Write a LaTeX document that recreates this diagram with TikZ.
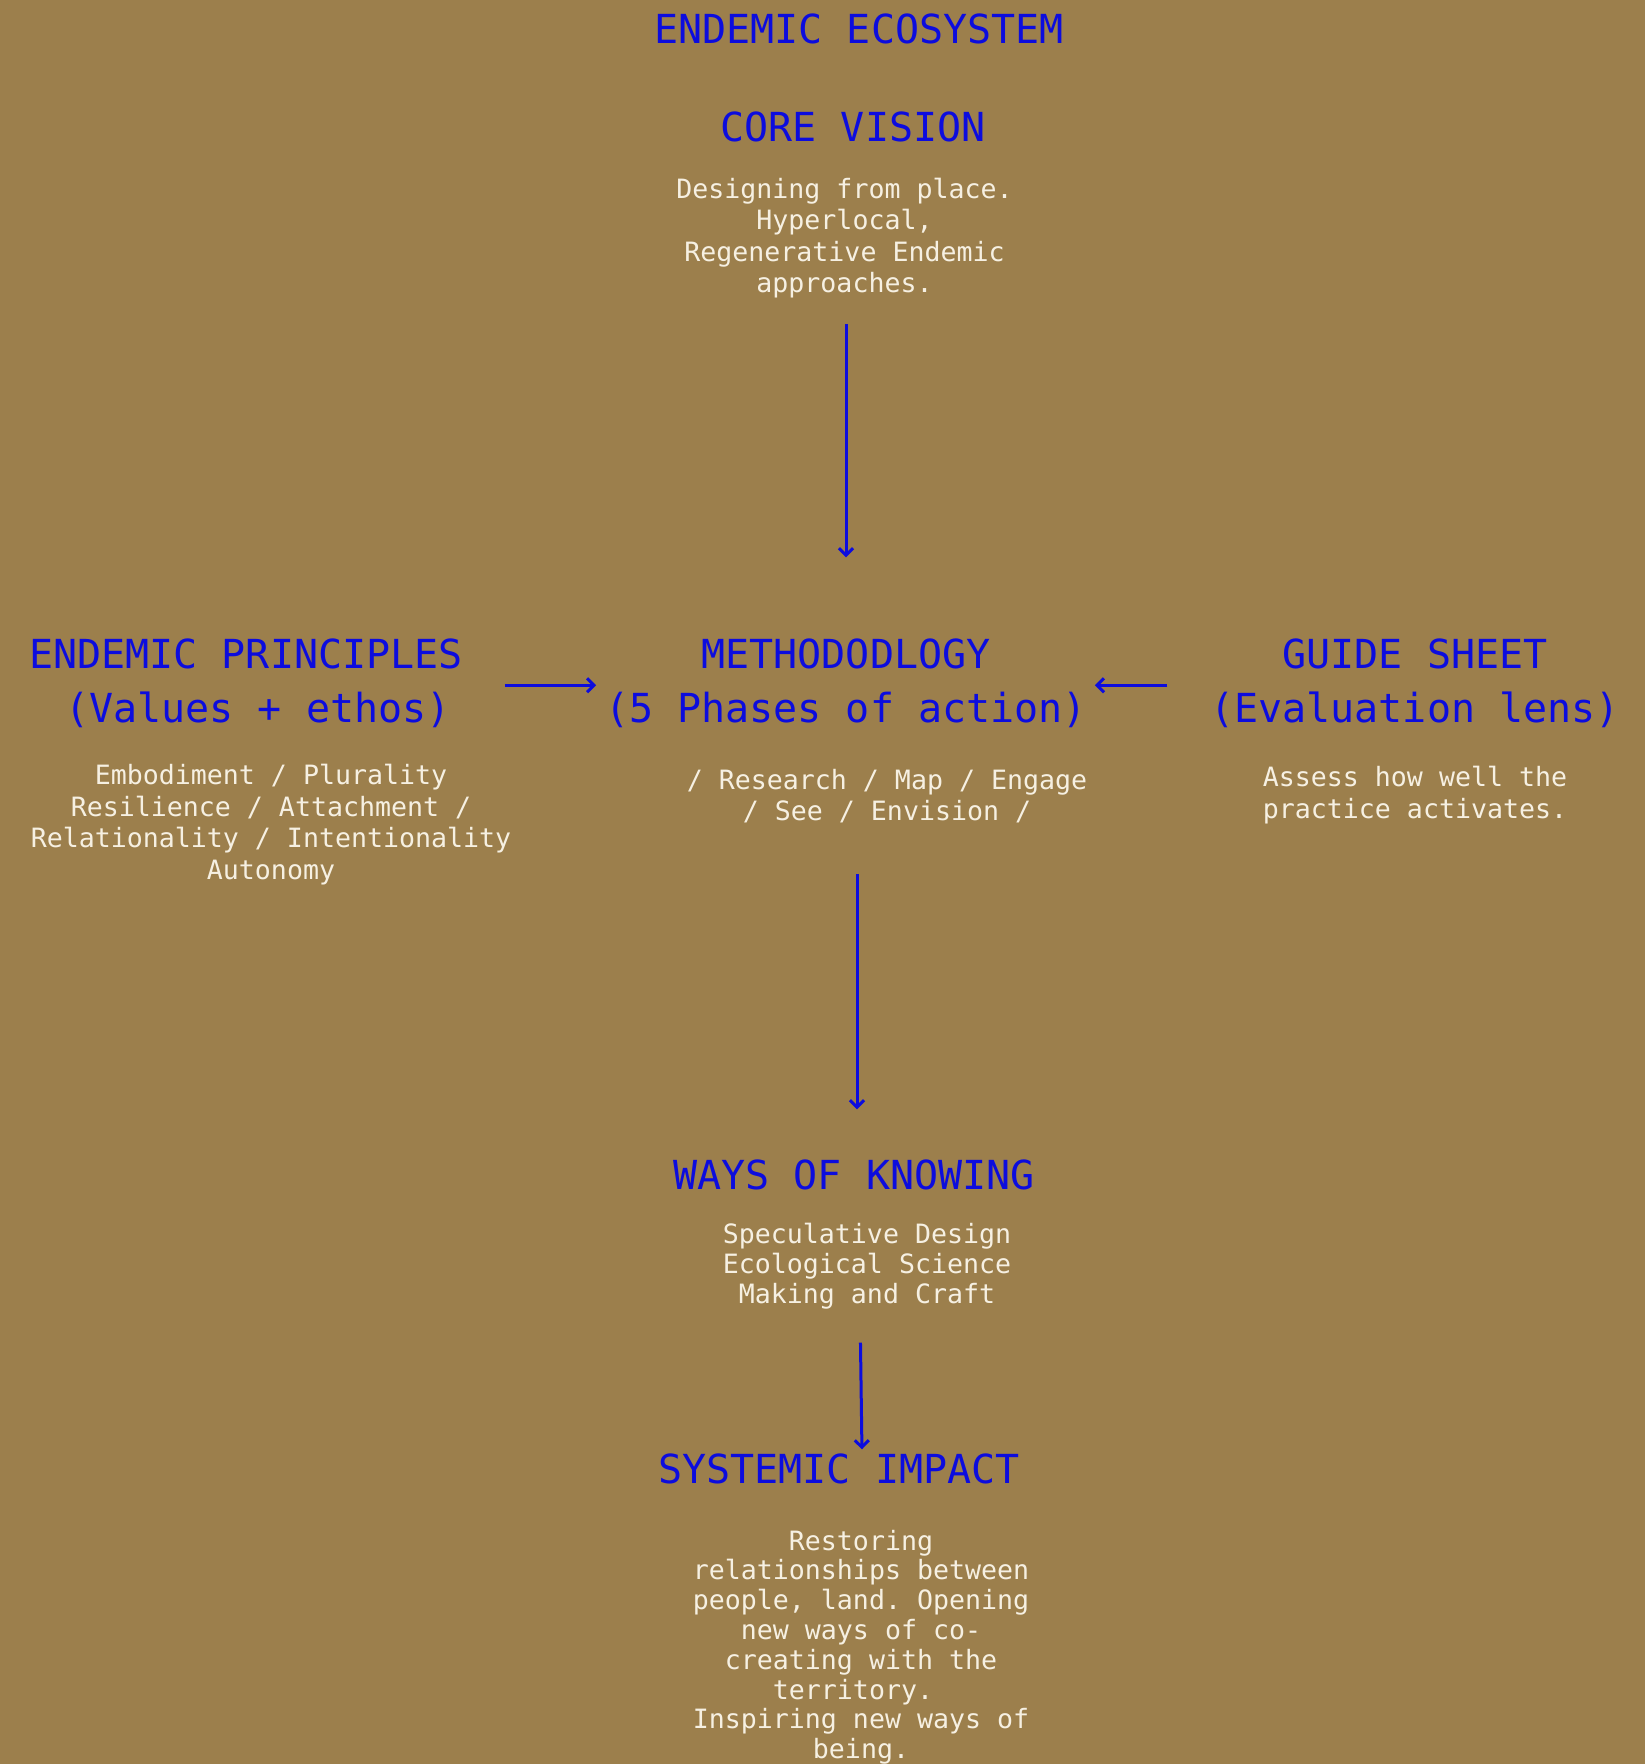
\documentclass[tikz,border=0pt]{standalone}
\usepackage{fontspec}
\setmonofont{DejaVu Sans Mono}
\usetikzlibrary{arrows.meta}

\definecolor{bg}{RGB}{156,127,76}
\definecolor{ink}{RGB}{12,12,222}
\definecolor{cream}{RGB}{246,240,226}

% multi-line nodes are placed by the baseline of their last line
\tikzset{
  head/.style={text=ink, font=\ttfamily\fontsize{40}{54}\selectfont,
    align=center, inner sep=0pt, outer sep=0pt, anchor=base},
  body/.style={text=cream, font=\ttfamily\fontsize{26.6}{31.5}\selectfont,
    align=center, inner sep=0pt, outer sep=0pt, anchor=base},
  tight/.style={font=\ttfamily\fontsize{26.6}{30}\selectfont},
  arr/.style={draw=ink, line width=3pt,
    -{Straight Barb[length=7pt,width=14pt]}}
}

\begin{document}
\begin{tikzpicture}[x=1pt,y=-1pt]
  % canvas
  \fill[bg] (0,0) rectangle (1645,1764);
  \useasboundingbox (0,0) rectangle (1645,1764);

  % top titles
  \node[head] (eco)  at (859,43)  {ENDEMIC ECOSYSTEM};
  \node[head] (core) at (853,141) {CORE VISION};
  \node[body] (coretxt) at (844.5,292.5)
    {Designing from place.\\Hyperlocal,\\Regenerative Endemic\\approaches.};

  % middle row
  \node[head] (prin) at (258,722)
    {ENDEMIC PRINCIPLES\phantom{X}\\(Values + ethos)};
  \node[body] (printxt) at (271,879)
    {Embodiment / Plurality\\Resilience / Attachment /\\Relationality / Intentionality\\Autonomy};

  \node[head] (meth) at (846,722)
    {METHODODLOGY\\(5 Phases of action)};
  \node[body, font=\ttfamily\fontsize{26.6}{31}\selectfont] (methtxt) at (887,820)
    {/ Research / Map / Engage\\/ See / Envision /};

  \node[head] (guide) at (1415,722)
    {GUIDE SHEET\\(Evaluation lens)};
  \node[body, font=\ttfamily\fontsize{26.6}{32}\selectfont] (guidetxt) at (1415,818)
    {Assess how well the\\practice activates.};

  % lower column
  \node[head] (ways) at (854,1189) {WAYS OF KNOWING};
  \node[body, tight] (waystxt) at (867,1303)
    {Speculative Design\\Ecological Science\\Making and Craft};

  \node[head] (sys) at (839,1483) {SYSTEMIC IMPACT};
  \node[body, font=\ttfamily\fontsize{26.6}{29.8}\selectfont] (systxt) at (861,1758.6)
    {Restoring\\relationships between\\people, land. Opening\\new ways of co-\\creating with the\\territory.\phantom{x}\\Inspiring new ways of\\being.};

  % connectors
  \draw[arr, shorten <=26pt, shorten >=81pt]
    (coretxt.south -| meth.north) -- (meth.north);
  \draw[arr, shorten <=18pt, shorten >=9pt]
    ([yshift=-2.5pt]prin.east) -- ([yshift=-2.5pt]meth.west);
  \draw[arr, shorten <=43pt, shorten >=8pt]
    ([yshift=-2.5pt]guide.west) -- ([yshift=-2.5pt]meth.east);
  \draw[arr, shorten <=52pt, shorten >=50pt]
    ([xshift=3pt]methtxt.south -| ways.north) -- ([xshift=3pt]ways.north);
  \draw[arr, shorten <=34pt, shorten >=4pt]
    ([xshift=-7pt]waystxt.south) -- ([xshift=-5pt]waystxt.south |- sys.north);
\end{tikzpicture}
\end{document}
